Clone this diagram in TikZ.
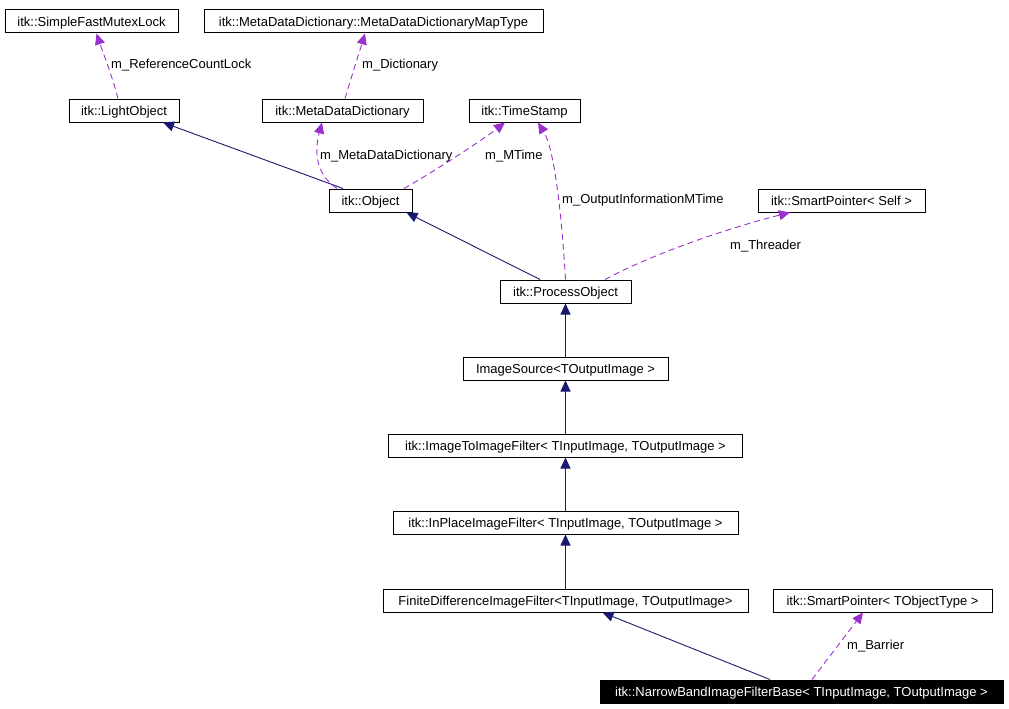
\documentclass[tikz,border=0pt]{standalone}
\usepackage{fontspec}
\setmainfont{Liberation Sans}
\usepackage{xcolor}
\definecolor{edgenavy}{RGB}{25,25,112}
\definecolor{edgeorchid}{RGB}{153,50,204}
\usepackage{tikz}
\usetikzlibrary{arrows.meta, positioning, calc}
\tikzset{
  cls/.style={
    rectangle, draw=black, fill=white, line width=1pt,
    minimum height=23pt, inner sep=0pt, text height=9.7pt, text depth=0pt,
    text centered, font=\fontsize{13}{15}\selectfont
  },
  current/.style={
    cls, fill=black, text=white
  },
  inherit/.style={line width=0.9pt, color=edgenavy,
    -{Triangle[length=11pt,width=10pt]}},
  member/.style={line width=0.9pt, color=edgeorchid, dash pattern=on 6pt off 4pt,
    -{Triangle[length=11pt,width=10pt]}},
  lbl/.style={anchor=west, inner sep=0pt, text height=9.7pt, text depth=0pt,
    font=\fontsize{13}{15}\selectfont},
}

\begin{document}
\begin{tikzpicture}[x=1pt, y=-1pt]
  \useasboundingbox (0,0) rectangle (1009,709);
  \node (mutex)    [cls, minimum width=173pt] at (91.5,21.5)  {itk::SimpleFastMutexLock};
  \node (maptype)  [cls, minimum width=339pt] at (373.5,21.5) {itk::MetaDataDictionary::MetaDataDictionaryMapType};
  \node (light)    [cls, minimum width=110pt] at (124,110.5)  {itk::LightObject};
  \node (metadict) [cls, minimum width=161pt] at (342.5,110.5) {itk::MetaDataDictionary};
  \node (stamp)    [cls, minimum width=111pt] at (524.5,110.5) {itk::TimeStamp};
  \node (object)   [cls, minimum width=83pt]  at (370.5,200.5) {itk::Object};
  \node (spself)   [cls, minimum width=167pt] at (841.5,200.5) {itk::SmartPointer< Self >};
  \node (process)  [cls, minimum width=131pt] at (565.5,291.5) {itk::ProcessObject};
  \node (source)   [cls, minimum width=205pt] at (565.5,368.5) {ImageSource<TOutputImage >};
  \node (im2im)    [cls, minimum width=354pt] at (565.5,445.5) {itk::ImageToImageFilter< TInputImage, TOutputImage >};
  \node (inplace)  [cls, minimum width=345pt] at (565.5,522.5) {itk::InPlaceImageFilter< TInputImage, TOutputImage >};
  \node (finite)   [cls, minimum width=365pt] at (565.5,600.5) {FiniteDifferenceImageFilter<TInputImage, TOutputImage>};
  \node (spobj)    [cls, minimum width=219pt] at (882.5,600.5) {itk::SmartPointer< TObjectType >};
  \node (narrow)   [current, minimum width=403pt] at (801.5,691.5) {itk::NarrowBandImageFilterBase< TInputImage, TOutputImage >};

  \draw [inherit] ([xshift=-27.5pt]object.north) -- ([xshift=39pt]light.south);
  \draw [inherit] ([xshift=-25.5pt]process.north) -- ([xshift=36pt]object.south);
  \draw [inherit] (source) -- (process);
  \draw [inherit] (im2im) -- (source);
  \draw [inherit] (inplace) -- (im2im);
  \draw [inherit] (finite) -- (inplace);
  \draw [inherit] ([xshift=-31.5pt]narrow.north) -- ([xshift=37pt]finite.south);

  \draw [member] ([xshift=-6pt]light.north) .. controls (112,75) and (102,50) .. ([xshift=5pt]mutex.south);
  \draw [member] ([xshift=2.5pt]metadict.north) .. controls (352,75) and (360,50) .. ([xshift=-8.5pt]maptype.south);
  \draw [member] ([xshift=-33.5pt]object.north) .. controls (312,172) and (316,145) .. ([xshift=-20.5pt]metadict.south);
  \draw [member] ([xshift=33.5pt]object.north) .. controls (440,168) and (485,138) .. ([xshift=-19.5pt]stamp.south);
  \draw [member] (process.north) .. controls (562,220) and (555,150) .. ([xshift=13.5pt]stamp.south);
  \draw [member] ([xshift=39.5pt]process.north) .. controls (660,250) and (740,225) .. ([xshift=-51.5pt]spself.south);
  \draw [member] ([xshift=10.5pt]narrow.north) -- ([xshift=-19.5pt]spobj.south);

  \node [lbl] at (111,64)  {m\_ReferenceCountLock};
  \node [lbl] at (362,64)  {m\_Dictionary};
  \node [lbl] at (320,155) {m\_MetaDataDictionary};
  \node [lbl] at (485,155) {m\_MTime};
  \node [lbl] at (562,199) {m\_OutputInformationMTime};
  \node [lbl] at (730,245) {m\_Threader};
  \node [lbl] at (847,645) {m\_Barrier};
\end{tikzpicture}
\end{document}
